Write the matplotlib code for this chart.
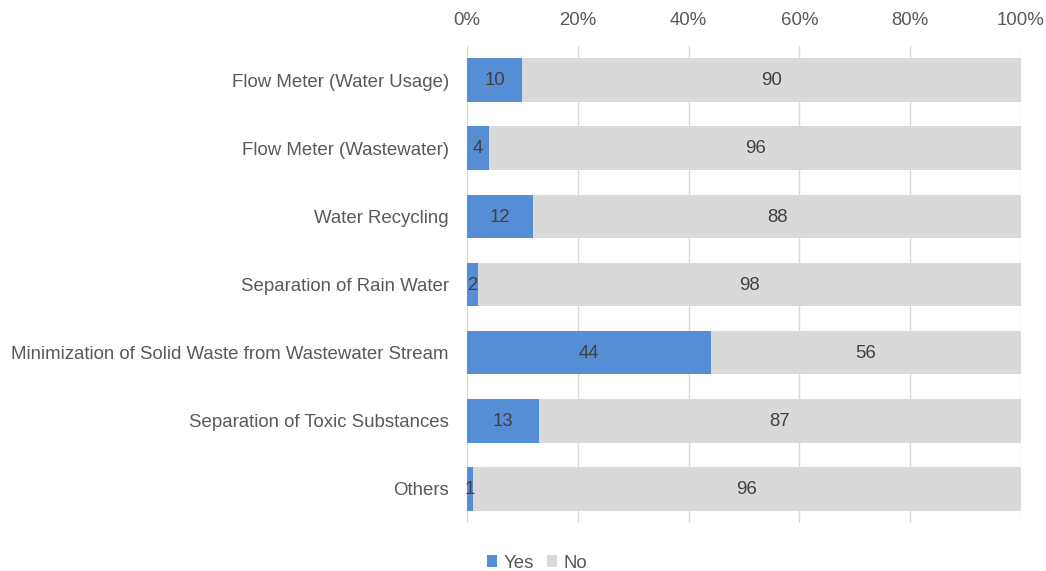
import numpy as np
import matplotlib.pyplot as plt

plt.rcParams['font.family'] = ['Liberation Sans', 'DejaVu Sans']

categories = ["Flow Meter (Water Usage)", "Flow Meter (Wastewater)", "Water Recycling",
              "Separation of Rain Water", "Minimization of Solid Waste from Wastewater Stream",
              "Separation of Toxic Substances", "Others"]
yes = [10, 4, 12, 2, 44, 13, 1]
no = [90, 96, 88, 98, 56, 87, 96]

yes = np.array(yes, dtype=float)
no = np.array(no, dtype=float)
total = yes + no
yes_pct = yes / total * 100
no_pct = no / total * 100

fig = plt.figure(figsize=(10.46, 5.71), dpi=100)
ax = fig.add_axes([467/1046, 1 - 523/571, (1021 - 467)/1046, (523 - 46)/571])

fs = 13.4
pos = np.arange(len(categories))
blue = '#558ED5'
grey = '#D9D9D9'
ax.barh(pos, yes_pct, height=0.64, color=blue, label='Yes', zorder=2)
ax.barh(pos, no_pct, left=yes_pct, height=0.64, color=grey, label='No', zorder=2)

for i in range(len(categories)):
    ax.text(yes_pct[i] / 2, pos[i] + 0.01, f"{int(yes[i])}", ha='center', va='center',
            fontsize=fs, color='#404040', zorder=3)
    ax.text(yes_pct[i] + no_pct[i] / 2, pos[i] + 0.01, f"{int(no[i])}", ha='center', va='center',
            fontsize=fs, color='#404040', zorder=3)

ax.set_ylim(len(categories) - 0.5, -0.5)
ax.set_xlim(0, 100)
ax.set_yticks(pos)
ax.set_yticklabels(categories, fontsize=fs, color='#595959')
ax.set_xticks(np.arange(0, 101, 20))
ax.set_xticklabels([f"{v}%" for v in range(0, 101, 20)], fontsize=fs, color='#595959')
ax.xaxis.tick_top()
ax.tick_params(axis='both', length=0)
ax.tick_params(axis='x', pad=12)
ax.tick_params(axis='y', pad=13)
ax.grid(axis='x', color='#D9D9D9', linewidth=1, zorder=0)
for s in ax.spines.values():
    s.set_visible(False)

ax.legend(loc='center', bbox_to_anchor=(0.126, -0.084), ncol=2, frameon=False,
          fontsize=fs, handlelength=0.55, handleheight=0.55, handletextpad=0.35,
          columnspacing=0.7, labelcolor='#595959')

fig.savefig('out.png', dpi=100)
